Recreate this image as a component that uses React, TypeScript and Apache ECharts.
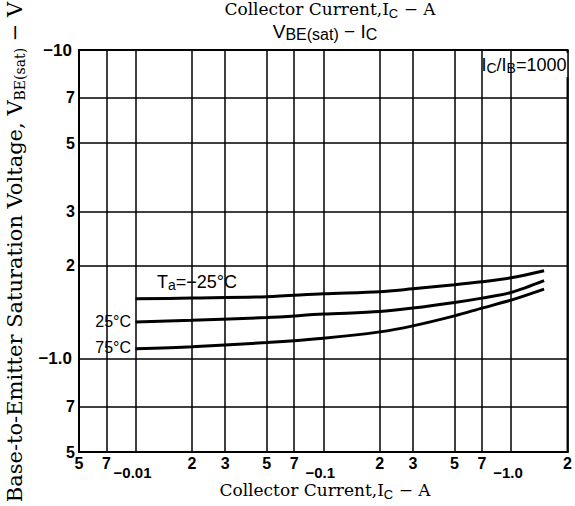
import React, { useEffect, useRef } from "react";
import * as echarts from "echarts";

const xTicks = [0.005, 0.007, 0.01, 0.02, 0.03, 0.05, 0.07, 0.1, 0.2, 0.3, 0.5, 0.7, 1, 2];
const xTickLabels = ["5", "7", "−0.01", "2", "3", "5", "7", "−0.1", "2", "3", "5", "7", "−1.0", "2"];
const yTicks = [0.5, 0.7, 1, 2, 3, 5, 7, 10];
const yTickLabels = ["5", "7", "−1.0", "2", "3", "5", "7", "−10"];

const current = [0.01, 0.02, 0.05, 0.1, 0.2, 0.3, 0.5, 0.7, 1.0, 1.5];
const vMinus25 = [1.566, 1.575, 1.59, 1.625, 1.65, 1.687, 1.738, 1.777, 1.831, 1.93];
const v25 = [1.318, 1.335, 1.362, 1.397, 1.424, 1.461, 1.523, 1.574, 1.641, 1.792];
const v75 = [1.08, 1.096, 1.13, 1.167, 1.224, 1.28, 1.379, 1.461, 1.551, 1.684];

const seriesNames = ["Ta=−25°C", "25°C", "75°C"];
const seriesValues = [vMinus25, v25, v75];

function pick(v: number, ticks: number[], labels: string[]) {
  for (let i = 0; i < ticks.length; i++) {
    if (Math.abs(Math.log10(v) - Math.log10(ticks[i])) < 0.01) return labels[i];
  }
  return "";
}

const SANS = "Liberation Sans";
const SERIF = "DejaVu Serif";

export default function App() {
  const ref = useRef<HTMLDivElement>(null);
  useEffect(() => {
    if (!ref.current) return;
    const chart = echarts.init(ref.current, null, { renderer: "svg" });
    chart.setOption({
      animation: false,
      backgroundColor: "#fff",
      grid: {
        left: 79,
        right: 5,
        top: 50,
        bottom: 54,
        show: true,
        borderColor: "#000",
        borderWidth: 2,
      },
      xAxis: {
        type: "log",
        min: 0.005,
        max: 2,
        axisLine: { show: true, lineStyle: { color: "#000", width: 2 } },
        axisTick: { show: false, customValues: xTicks },
        splitLine: { show: true, lineStyle: { color: "#000", width: 1.5 } },
        minorSplitLine: { show: false },
        axisLabel: {
          customValues: xTicks,
          margin: 3,
          color: "#000",
          fontFamily: SANS,
          fontWeight: "bold",
          fontSize: 16,
          hideOverlap: false,
          formatter: (v: number) => {
            const s = pick(v, xTicks, xTickLabels);
            return s.indexOf(".") >= 0 ? "{d|" + s + "}" : "{n|" + s + "}";
          },
          rich: {
            n: { fontFamily: SANS, fontWeight: "bold", fontSize: 16, color: "#000" },
            d: { fontFamily: SANS, fontWeight: "bold", fontSize: 15, color: "#000", padding: [10, 6, 0, 0] },
          },
        },
      },
      yAxis: {
        type: "log",
        min: 0.5,
        max: 10,
        axisLine: { show: true, lineStyle: { color: "#000", width: 2 } },
        axisTick: { show: false, customValues: yTicks },
        splitLine: { show: true, lineStyle: { color: "#000", width: 1.5 } },
        axisLabel: {
          customValues: yTicks,
          margin: 4,
          color: "#000",
          fontFamily: SANS,
          fontWeight: "bold",
          fontSize: 16,
          formatter: (v: number) => {
            const s = pick(v, yTicks, yTickLabels);
            return s.indexOf("−") >= 0 ? "{d|" + s + "}" : "{n|" + s + "}";
          },
          rich: {
            n: { fontFamily: SANS, fontWeight: "bold", fontSize: 16, color: "#000" },
            d: { fontFamily: SANS, fontWeight: "bold", fontSize: 17, color: "#000", padding: [0, 3, 0, 0] },
          },
        },
      },
      series: seriesValues.map((vals, i) => ({
        name: seriesNames[i],
        type: "line",
        smooth: 0.3,
        symbol: "none",
        lineStyle: { color: "#000", width: 3 },
        data: current.map((c, j) => [c, vals[j]]),
      })),
      graphic: [
        {
          type: "text",
          x: 330,
          y: 9,
          style: {
            text: "Collector Current,I{s|C} − A",
            fontFamily: SERIF,
            fontSize: 17,
            fill: "#000",
            align: "center",
            verticalAlign: "middle",
            rich: { s: { fontFamily: SANS, fontSize: 13, padding: [8, 0, 0, 0] } },
          },
        },
        {
          type: "text",
          x: 325,
          y: 31,
          style: {
            text: "V{s|BE(sat)} − I{s|C}",
            fontFamily: SANS,
            fontSize: 19,
            fill: "#000",
            align: "center",
            verticalAlign: "middle",
            rich: { s: { fontFamily: SANS, fontSize: 16, padding: [6, 0, 0, 0] } },
          },
        },
        {
          type: "text",
          x: 325,
          y: 490,
          style: {
            text: "Collector Current,I{s|C} − A",
            fontFamily: SERIF,
            fontSize: 17,
            fill: "#000",
            align: "center",
            verticalAlign: "middle",
            rich: { s: { fontFamily: SANS, fontSize: 13, padding: [8, 0, 0, 0] } },
          },
        },
        {
          type: "text",
          x: 15,
          y: 252,
          rotation: Math.PI / 2,
          style: {
            text: "Base-to-Emitter Saturation Voltage, V{s|BE(sat)} − V",
            fontFamily: SERIF,
            fontSize: 21,
            fill: "#000",
            align: "center",
            verticalAlign: "middle",
            rich: { s: { fontFamily: SERIF, fontSize: 14, padding: [10, 0, 0, 0] } },
          },
        },
        {
          type: "text",
          x: 524,
          y: 65,
          style: {
            text: "I{s|C}/I{s|B}=1000",
            fontFamily: SANS,
            fontSize: 18,
            fill: "#000",
            align: "center",
            verticalAlign: "middle",
            backgroundColor: "#fff",
            padding: [2, 2, 2, 2],
            rich: { s: { fontFamily: SANS, fontSize: 14, padding: [6, 0, 0, 0] } },
          },
        },
        {
          type: "text",
          x: 155,
          y: 282,
          style: {
            text: "T{s|a}=−25°C",
            fontFamily: SANS,
            fontSize: 18,
            fill: "#000",
            align: "left",
            verticalAlign: "middle",
            backgroundColor: "#fff",
            padding: [1, 2, 1, 2],
            rich: { s: { fontFamily: SANS, fontSize: 14, padding: [6, 0, 0, 0] } },
          },
        },
        {
          type: "text",
          x: 132,
          y: 321,
          style: {
            text: "25°C",
            fontFamily: SANS,
            fontSize: 16,
            fill: "#000",
            align: "right",
            verticalAlign: "middle",
            backgroundColor: "#fff",
            padding: [1, 1, 1, 1],
          },
        },
        {
          type: "text",
          x: 132,
          y: 347,
          style: {
            text: "75°C",
            fontFamily: SANS,
            fontSize: 16,
            fill: "#000",
            align: "right",
            verticalAlign: "middle",
            backgroundColor: "#fff",
            padding: [1, 1, 1, 1],
          },
        },
      ],
    });
    return () => chart.dispose();
  }, []);
  return (
    <div
      ref={ref}
      style={{ position: "fixed", left: 0, top: 0, width: 575, height: 506, background: "#fff" }}
    />
  );
}
